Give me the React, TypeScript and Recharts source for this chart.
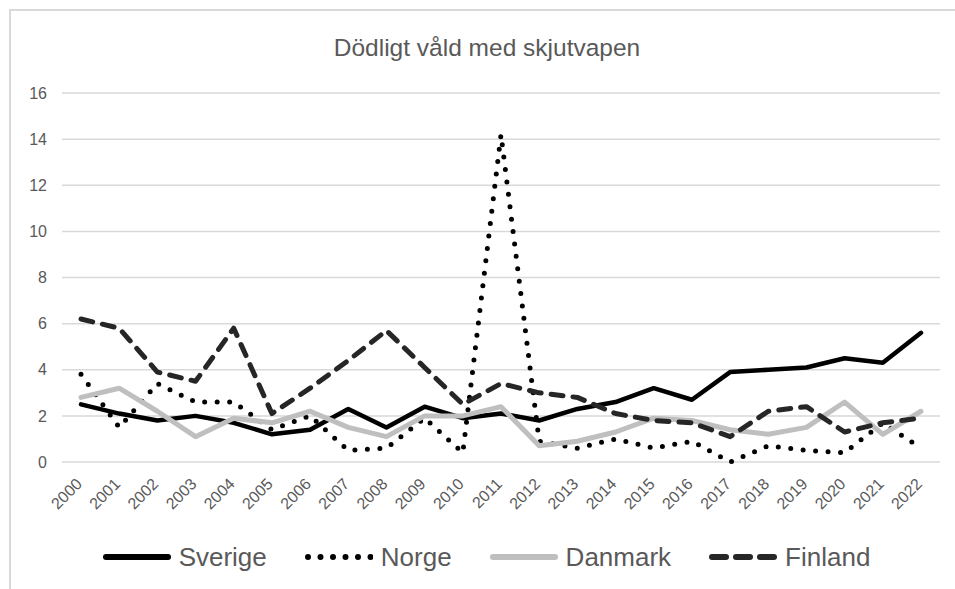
import React from "react";
import { LineChart, Line, XAxis, YAxis, CartesianGrid, Legend } from "recharts";

const years = [
  "2000", "2001", "2002", "2003", "2004", "2005", "2006", "2007", "2008", "2009", "2010", "2011",
  "2012", "2013", "2014", "2015", "2016", "2017", "2018", "2019", "2020", "2021", "2022",
];
const sverige = [2.5, 2.1, 1.8, 2.0, 1.7, 1.2, 1.4, 2.3, 1.5, 2.4, 1.9, 2.1, 1.8, 2.3, 2.6, 3.2, 2.7, 3.9, 4.0, 4.1, 4.5, 4.3, 5.6];
const norge = [3.8, 1.5, 3.4, 2.6, 2.6, 1.4, 2.0, 0.5, 0.6, 1.9, 0.4, 14.2, 0.9, 0.6, 1.0, 0.6, 0.9, 0.0, 0.7, 0.5, 0.4, 1.7, 0.6];
const danmark = [2.8, 3.2, 2.2, 1.1, 1.9, 1.7, 2.2, 1.5, 1.1, 2.0, 2.0, 2.4, 0.7, 0.9, 1.3, 1.9, 1.8, 1.4, 1.2, 1.5, 2.6, 1.2, 2.2];
const finland = [6.2, 5.8, 3.9, 3.5, 5.8, 2.1, 3.2, 4.4, 5.7, 4.1, 2.5, 3.4, 3.0, 2.8, 2.1, 1.8, 1.7, 1.1, 2.2, 2.4, 1.3, 1.7, 1.9];
const yTicks = [0, 2, 4, 6, 8, 10, 12, 14, 16];

const FONT = "'Liberation Sans', Arial, sans-serif";
const TEXT = "#595959";

const series = [
  { name: "Sverige", color: "#000000", width: 4.5, dash: undefined as string | undefined },
  { name: "Norge", color: "#000000", width: 5, dash: "0 12.5" },
  { name: "Danmark", color: "#BFBFBF", width: 5, dash: undefined },
  { name: "Finland", color: "#262626", width: 5, dash: "12 10" },
];

const data = years.map((year, i) => ({
  year,
  Sverige: sverige[i],
  Norge: norge[i],
  Danmark: danmark[i],
  Finland: finland[i],
}));

const XTick = ({ x, y, payload }: any) => (
  <g transform={`translate(${x + 2},${y + 23})`}>
    <text textAnchor="end" transform="rotate(-45)" fill={TEXT} fontSize={16} fontFamily={FONT}>
      {payload.value}
    </text>
  </g>
);

const LegendRow = () => (
  <div
    style={{
      height: 56,
      boxSizing: "border-box",
      paddingLeft: 18,
      paddingBottom: 8,
      display: "flex",
      alignItems: "center",
      justifyContent: "center",
      fontFamily: FONT,
      fontSize: 26,
      color: TEXT,
    }}
  >
    {series.map((s, i) => (
      <div key={s.name} style={{ display: "flex", alignItems: "center", marginLeft: i === 0 ? 0 : 38 }}>
        <svg width={68} height={12} style={{ marginRight: 8 }}>
          <line
            x1={3}
            y1={6}
            x2={s.name === "Norge" ? 65.6 : 65}
            y2={6}
            stroke={s.color}
            strokeWidth={6}
            strokeLinecap="round"
            strokeDasharray={s.name === "Finland" ? "14 10" : s.dash}
          />
        </svg>
        <span>{s.name}</span>
      </div>
    ))}
  </div>
);

export default function App() {
  return (
    <div style={{ position: "absolute", left: 0, top: 0, width: 955, height: 589, background: "#fff", overflow: "hidden" }}>
      <div
        style={{
          position: "absolute",
          left: 9,
          top: 9,
          width: 960,
          height: 600,
          borderLeft: "2px solid #D9D9D9",
          borderTop: "2px solid #D9D9D9",
        }}
      />
      <div
        style={{
          position: "absolute",
          left: 0,
          top: 34,
          width: 974,
          textAlign: "center",
          fontFamily: FONT,
          fontSize: 24.5,
          color: TEXT,
        }}
      >
        Dödligt våld med skjutvapen
      </div>
      <div style={{ position: "absolute", left: 0, top: 0 }}>
        <LineChart width={955} height={589} data={data} margin={{ top: 93, right: 15, bottom: 0, left: 0 }}>
          <CartesianGrid vertical={false} stroke="#D9D9D9" strokeWidth={1.5} />
          <XAxis
            dataKey="year"
            interval={0}
            tickLine={false}
            axisLine={false}
            tickSize={0}
            tickMargin={0}
            height={71}
            padding={{ left: 19, right: 19 }}
            tick={<XTick />}
          />
          <YAxis
            domain={[0, 16]}
            ticks={yTicks}
            width={62}
            tickLine={false}
            axisLine={false}
            tickSize={0}
            tickMargin={15}
            tick={{ fill: TEXT, fontSize: 16, fontFamily: FONT }}
          />
          <Legend verticalAlign="bottom" content={() => <LegendRow />} wrapperStyle={{ left: 0, width: 955 }} />
          {series.map((s) => (
            <Line
              key={s.name}
              type="linear"
              dataKey={s.name}
              stroke={s.color}
              strokeWidth={s.width}
              strokeDasharray={s.dash}
              strokeLinecap="round"
              strokeLinejoin="round"
              dot={false}
              activeDot={false}
              isAnimationActive={false}
            />
          ))}
        </LineChart>
      </div>
    </div>
  );
}
